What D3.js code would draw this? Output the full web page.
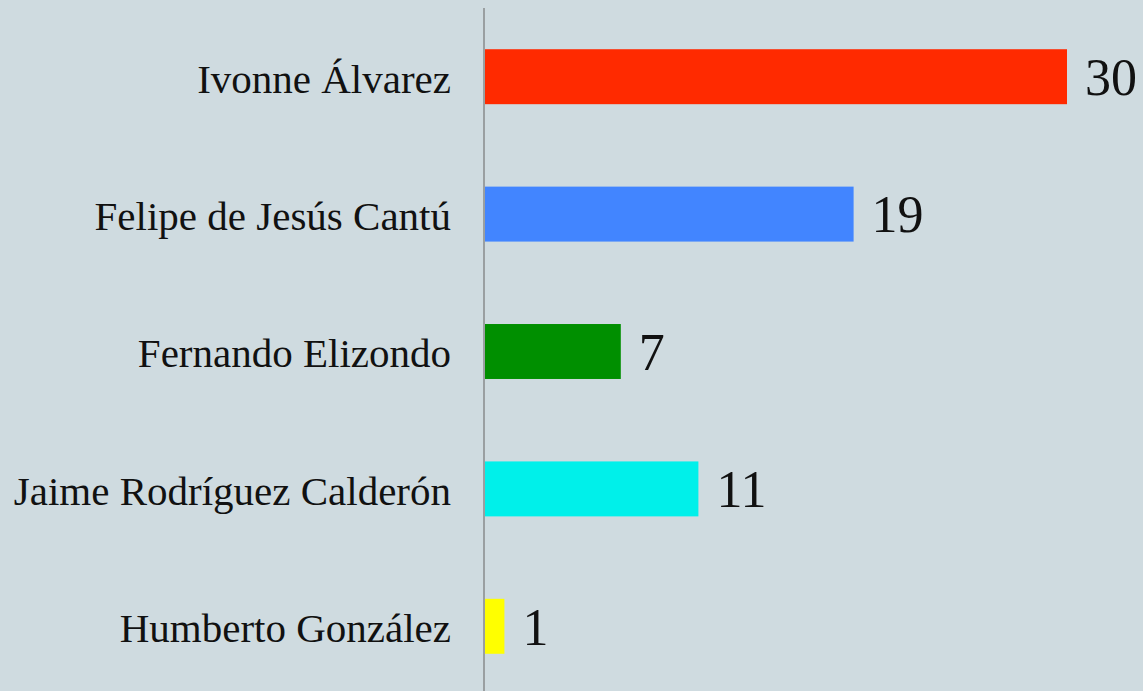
<!DOCTYPE html>
<html><head><meta charset="utf-8">
<script src="https://cdn.jsdelivr.net/npm/d3@7"></script>
<style>html,body{margin:0;padding:0;background:#cfdbe0;overflow:hidden}</style>
</head><body>
<svg id="c" width="1143" height="691"></svg>
<script>
const categories = ["Ivonne Álvarez","Felipe de Jesús Cantú","Fernando Elizondo","Jaime Rodríguez Calderón","Humberto González"];
const values = [30,19,7,11,1];
const colors = ["#ff2a00","#4285ff","#008f00","#00f0ea","#ffff00"];

const svg = d3.select("#c");
const W = 1143, H = 691;
svg.append("rect").attr("width",W).attr("height",H).attr("fill","#cfdbe0");
const x = d3.scaleLinear().domain([0,30]).range([485,1067]);
const y = d3.scaleBand().domain(categories).range([8,695]).paddingInner(0.6).paddingOuter(0.3);
const data = categories.map((c,i)=>({c,v:values[i],col:colors[i]}));

svg.selectAll("rect.bar").data(data).join("rect").attr("class","bar")
  .attr("x",x(0)).attr("y",d=>y(d.c)).attr("width",d=>x(d.v)-x(0)).attr("height",y.bandwidth()).attr("fill",d=>d.col);

svg.append("line").attr("x1",484).attr("x2",484).attr("y1",8).attr("y2",H).attr("stroke","#9a9fa1").attr("stroke-width",2);

const font = "'Liberation Serif', 'DejaVu Serif', serif";
svg.selectAll("text.lab").data(data).join("text").attr("class","lab")
  .attr("x",451).attr("y",d=>y(d.c)+y.bandwidth()/2).attr("dy","0.39em")
  .attr("text-anchor","end").attr("font-family",font).attr("font-size",41).attr("fill","#111")
  .text(d=>d.c);
svg.selectAll("text.val").data(data).join("text").attr("class","val")
  .attr("x",d=>x(d.v)+18).attr("y",d=>y(d.c)+y.bandwidth()/2).attr("dy","0.35em")
  .attr("font-family",font).attr("font-size",52).attr("fill","#111")
  .text(d=>d.v);
</script>
</body></html>
